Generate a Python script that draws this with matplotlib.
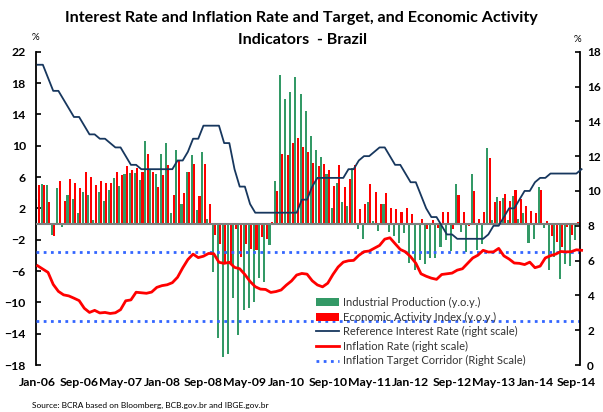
import matplotlib
matplotlib.use("Agg")
import matplotlib.pyplot as plt
import numpy as np
from matplotlib.patches import Patch
from matplotlib.lines import Line2D

plt.rcParams['font.family'] = ['Lato', 'DejaVu Sans']

# Monthly tick labels (every 8 months from Jan-06)
tick_labels = ["Jan-06", "Sep-06", "May-07", "Jan-08", "Sep-08", "May-09", "Jan-10",
               "Sep-10", "May-11", "Jan-12", "Sep-12", "May-13", "Jan-14", "Sep-14"]

# Industrial production, y.o.y. %, Jan-06 .. Sep-14
industrial_production = [
    3.2, 5.1, 5.0, -1.4, 4.6, -0.4, 3.7, 3.2, 1.4, 4.1, 3.7, 0.5,
    4.1, 3.0, 4.4, 5.85, 4.8, 6.4, 6.5, 6.5, 5.6, 10.6, 6.9, 6.4,
    9.0, 10.3, 1.4, 9.5, 2.6, 6.6, 8.8, 1.8, 9.2, 0.6, -6.1, -14.6,
    -17.0, -16.6, -9.45, -14.2, -11.0, -10.7, -9.95, -6.9, -7.4, -2.7, 5.45, 19.0,
    15.9, 16.9, 18.8, 16.6, 14.4, 11.3, 9.45, 8.5, 6.4, 2.0, 5.25, 2.8,
    2.25, 7.2, -0.7, -1.95, 2.8, 0.35, -0.9, 2.5, -1.0, -1.5, -2.4, -1.2,
    -5.0, -5.9, -4.6, -5.05, -4.3, -4.4, -2.9, -2.0, -3.4, 5.15, -1.0, -3.6,
    6.4, -3.3, -2.5, 9.75, 0.5, 3.5, 3.35, 0.5, 3.6, 0.65, 1.4, -2.4,
    -1.9, 4.7, -0.5, -5.9, -4.2, -7.0, -5.05, -5.3, -2.1,
]

# Economic activity index, y.o.y. %, Jan-06 .. Sep-14
economic_activity = [
    5.0, 5.0, 2.8, -1.5, 5.45, 3.0, 5.7, 5.2, 4.6, 6.7, 6.0, 4.95,
    5.45, 5.2, 5.2, 6.7, 6.2, 7.4, 6.85, 7.15, 6.7, 8.9, 6.7, 4.7,
    6.2, 7.5, 3.7, 8.0, 3.95, 6.7, 7.6, 3.55, 7.7, 2.6, -1.4, -2.6,
    -4.85, -5.05, -0.7, -4.2, -2.5, -3.2, -3.35, -1.6, -1.95, 0.3, 4.2, 8.9,
    8.8, 10.4, 11.0, 9.8, 9.15, 7.8, 7.4, 7.6, 6.85, 4.8, 7.5, 4.7,
    5.7, 7.5, 1.9, 2.6, 5.05, 4.1, 2.5, 4.0, 2.1, 1.9, 1.5, 2.0,
    1.3, 0.1, 0.7, -0.6, 0.5, -0.5, 1.5, 1.5, -0.6, 3.65, 1.5, -0.2,
    4.2, 0.65, 1.5, 8.4, 2.8, 2.9, 3.8, 2.9, 4.4, 3.2, 2.25, 1.65,
    1.4, 4.3, 0.35, -1.5, -2.3, -2.9, -0.4, -1.45, 0.3,
]

# Reference (Selic) interest rate, %, Jan-06 .. Oct-14 (right scale)
reference_rate = [
    17.25, 17.25, 16.5, 15.75, 15.75, 15.25, 14.75, 14.25, 14.25, 13.75, 13.25, 13.25,
    13.0, 13.0, 12.75, 12.5, 12.5, 12.0, 11.5, 11.5, 11.25, 11.25, 11.25, 11.25,
    11.25, 11.25, 11.25, 11.75, 11.75, 12.25, 13.0, 13.0, 13.75, 13.75, 13.75, 13.75,
    12.75, 12.75, 11.25, 10.25, 10.25, 9.25, 8.75, 8.75, 8.75, 8.75, 8.75, 8.75,
    8.75, 8.75, 8.75, 9.5, 9.5, 10.25, 10.75, 10.75, 10.75, 10.75, 10.75, 10.75,
    11.25, 11.25, 11.75, 12.0, 12.0, 12.25, 12.5, 12.5, 12.0, 11.5, 11.5, 11.0,
    10.5, 10.5, 9.75, 9.0, 8.5, 8.5, 8.0, 7.5, 7.5, 7.25, 7.25, 7.25,
    7.25, 7.25, 7.25, 7.5, 8.0, 8.0, 8.5, 9.0, 9.0, 9.5, 10.0, 10.0,
    10.5, 10.75, 10.75, 11.0, 11.0, 11.0, 11.0, 11.0, 11.0, 11.25,
]

# 12-month consumer inflation, %, Jan-06 .. Oct-14 (right scale)
inflation_rate = [
    5.70, 5.51, 5.32, 4.63, 4.23, 4.03, 3.97, 3.84, 3.70, 3.26, 3.02, 3.14,
    2.99, 3.02, 2.96, 3.00, 3.18, 3.69, 3.74, 4.18, 4.15, 4.12, 4.19, 4.46,
    4.56, 4.61, 4.73, 5.04, 5.58, 6.06, 6.37, 6.17, 6.25, 6.41, 6.39, 5.90,
    5.84, 5.90, 5.61, 5.53, 5.20, 4.80, 4.50, 4.36, 4.34, 4.17, 4.22, 4.31,
    4.59, 4.83, 5.17, 5.26, 5.22, 4.84, 4.60, 4.49, 4.70, 5.20, 5.63, 5.91,
    5.99, 6.01, 6.30, 6.51, 6.55, 6.71, 6.87, 7.23, 7.31, 6.97, 6.64, 6.50,
    6.22, 5.85, 5.24, 5.10, 4.99, 4.92, 5.20, 5.24, 5.28, 5.45, 5.53, 5.84,
    6.15, 6.31, 6.59, 6.49, 6.50, 6.70, 6.27, 6.09, 5.86, 5.84, 5.77, 5.91,
    5.59, 5.68, 6.15, 6.28, 6.37, 6.52, 6.50, 6.51, 6.62, 6.59,
]

# Inflation target corridor bounds, %
target_low = 2.5
target_high = 6.5

GREEN = "#339966"
RED = "#FF0000"
NAVY = "#17375E"
DOTBLUE = "#3366FF"

W, H = 603, 412
fig = plt.figure(figsize=(W / 100, H / 100), dpi=100)
left, right, top, bottom = 35.5, 579.5, 51.7, 365.0
ax = fig.add_axes([left / W, 1 - bottom / H, (right - left) / W, (bottom - top) / H])

n_bars = len(industrial_production)
xb = np.arange(n_bars)
bw = 0.40
ax.bar(xb - 0.24, industrial_production, width=bw, color=GREEN, zorder=2)
ax.bar(xb + 0.24, economic_activity, width=bw, color=RED, zorder=2)
ax.axhline(0, color="#7f7f7f", lw=1.5, zorder=3)

ax.set_ylim(-18, 22)
ax.set_yticks(np.arange(-18, 23, 4))
ax.set_xlim(-0.42, 104.6)
ax.set_xticks(np.arange(0, n_bars, 8))
ax.set_xticklabels(tick_labels)
ax.tick_params(axis="x", length=0, pad=9, labelsize=8.8)
for lbl in ax.get_xticklabels():
    lbl.set_fontweight("bold")
ax.tick_params(axis="y", direction="in", length=3.5, width=1.2, pad=7, labelsize=8.8)
for lbl in ax.get_yticklabels():
    lbl.set_fontweight("bold")

for s in ("top", "bottom", "right"):
    ax.spines[s].set_visible(False)
ax.spines["left"].set_linewidth(1.3)

ax2 = ax.twinx()
xl = np.arange(len(reference_rate))
ax2.axhline(target_low, color=DOTBLUE, lw=2.0, ls=(0, (1, 1.6)), zorder=2)
ax2.axhline(target_high, color=DOTBLUE, lw=2.0, ls=(0, (1, 1.6)), zorder=2)
ax2.plot(xl, reference_rate, color=NAVY, lw=1.3, zorder=4, clip_on=False)
ax2.plot(xl, inflation_rate, color=RED, lw=2.0, zorder=4, clip_on=False)
ax2.set_ylim(0, 18)
ax2.set_yticks(np.arange(0, 19, 2))
ax2.tick_params(axis="y", direction="in", length=3.5, width=1.2, pad=5.5, labelsize=8.5)
for lbl in ax2.get_yticklabels():
    lbl.set_fontweight("bold")
for s in ("top", "bottom", "left"):
    ax2.spines[s].set_visible(False)
ax2.spines["right"].set_linewidth(1.3)

fig.text(35 / W, 1 - 37 / H, "%", fontsize=7, ha="center", va="center")
fig.text(577 / W, 1 - 40 / H, "%", fontsize=7, ha="center", va="center")

fig.text(301 / W, 1 - 18 / H, "Interest Rate and Inflation Rate and Target, and Economic Activity",
         fontsize=11.6, fontweight="bold", ha="center", va="center")
fig.text(302 / W, 1 - 40 / H, "Indicators  - Brazil",
         fontsize=11.6, fontweight="bold", ha="center", va="center")

fig.text(32 / W, 1 - 405 / H, "Source: BCRA based on Bloomberg, BCB.gov.br and IBGE.gov.br",
         fontsize=6, ha="left", va="center")

handles = [
    Patch(facecolor=GREEN, edgecolor="none"),
    Patch(facecolor=RED, edgecolor="none"),
    Line2D([], [], color=NAVY, lw=1.3),
    Line2D([], [], color=RED, lw=2.0),
    Line2D([], [], color=DOTBLUE, lw=2.0, ls=(0, (1, 1.6))),
]
labels = [
    "Industrial Production (y.o.y.)",
    "Economic Activity Index (y.o.y.)",
    "Reference Interest Rate (right scale)",
    "Inflation Rate (right scale)",
    "Inflation Target Corridor (Right Scale)",
]
leg = ax2.legend(handles, labels, loc="upper left",
                 bbox_to_anchor=(316 / W, 1 - 297 / H), bbox_transform=fig.transFigure,
                 frameon=False, fontsize=8, handlelength=2.1, handletextpad=0.3,
                 labelspacing=0.32, borderpad=0, borderaxespad=0)
for t in leg.get_texts():
    t.set_color("#333333")

fig.savefig("out.png", dpi=100)
